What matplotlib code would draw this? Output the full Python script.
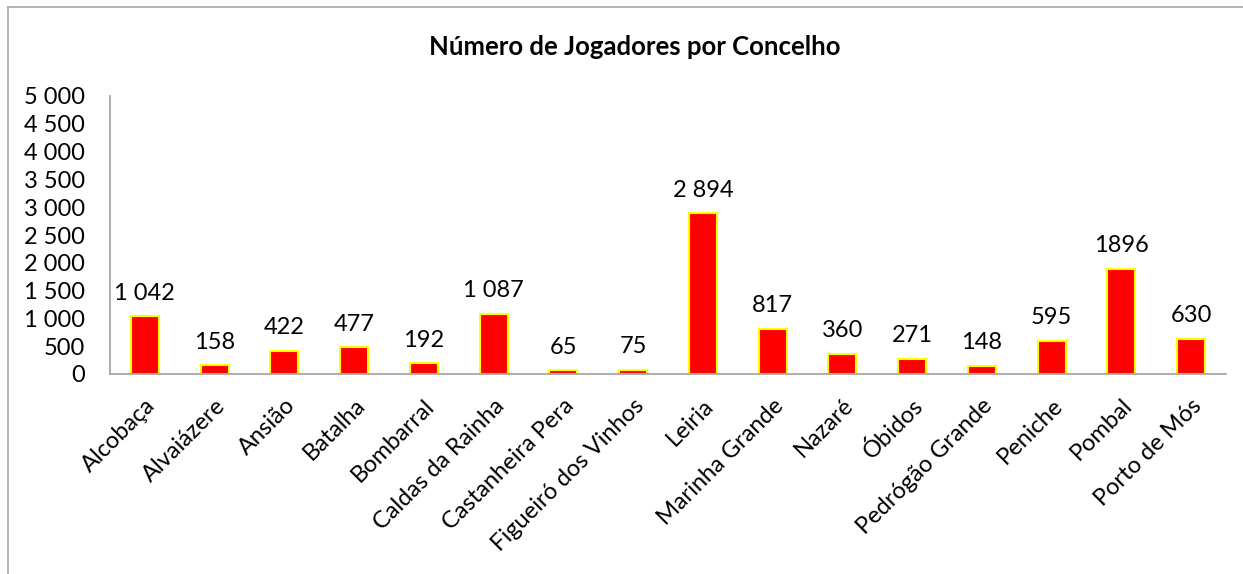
import matplotlib.pyplot as plt
from matplotlib.lines import Line2D

concelhos = ['Alcobaça', 'Alvaiázere', 'Ansião', 'Batalha', 'Bombarral',
             'Caldas da Rainha', 'Castanheira Pera', 'Figueiró dos Vinhos',
             'Leiria', 'Marinha Grande', 'Nazaré', 'Óbidos', 'Pedrógão Grande',
             'Peniche', 'Pombal', 'Porto de Mós']
jogadores = [1042, 158, 422, 477, 192, 1087, 65, 75, 2894, 817, 360, 271,
             148, 595, 1896, 630]
rotulos = ['1 042', '158', '422', '477', '192', '1 087', '65', '75', '2 894',
           '817', '360', '271', '148', '595', '1896', '630']
yticks = list(range(0, 5001, 500))
ytick_labels = ['0', '500', '1 000', '1 500', '2 000', '2 500', '3 000',
                '3 500', '4 000', '4 500', '5 000']

plt.rcParams['font.family'] = ['Lato', 'DejaVu Sans']

fig = plt.figure(figsize=(12.43, 5.74), dpi=100)
ax = fig.add_axes([110 / 1243, 1 - 374 / 574, (1226 - 110) / 1243, (374 - 96) / 574])

x = range(len(concelhos))
bars = ax.bar(x, jogadores, width=0.4, color='#FF0000', edgecolor='#FFFF00', linewidth=1.5)
for b, t in zip(bars, rotulos):
    ax.annotate(t, (b.get_x() + b.get_width() / 2, b.get_height()),
                xytext=(0, 9), textcoords='offset points',
                ha='center', va='bottom', fontsize=17)

ax.set_xlim(-0.5, len(concelhos) - 0.5)
ax.set_ylim(0, 5000)
ax.set_yticks(yticks)
ax.set_yticklabels(ytick_labels, fontsize=17)
ax.set_xticks(list(x))
ax.set_xticklabels(concelhos, rotation=45, ha='right', rotation_mode='anchor', fontsize=17)
ax.tick_params(length=0)
ax.tick_params(axis='x', pad=15)
ax.tick_params(axis='y', pad=18)
for s in ['top', 'right']:
    ax.spines[s].set_visible(False)
for s in ['left', 'bottom']:
    ax.spines[s].set_color('#A0A0A0')
    ax.spines[s].set_linewidth(1.2)

fig.text(635 / 1243, 1 - 47 / 574, 'Número de Jogadores por Concelho',
         ha='center', va='center', fontsize=18.5, fontweight='bold')

# chart area border (left and top edges visible)
fig.add_artist(Line2D([8 / 1243, 8 / 1243], [0, 1 - 7 / 574], transform=fig.transFigure,
                      color='#A6A6A6', linewidth=1.2))
fig.add_artist(Line2D([8 / 1243, 1], [1 - 7 / 574, 1 - 7 / 574], transform=fig.transFigure,
                      color='#A6A6A6', linewidth=1.2))

fig.savefig('out.png', dpi=100)
